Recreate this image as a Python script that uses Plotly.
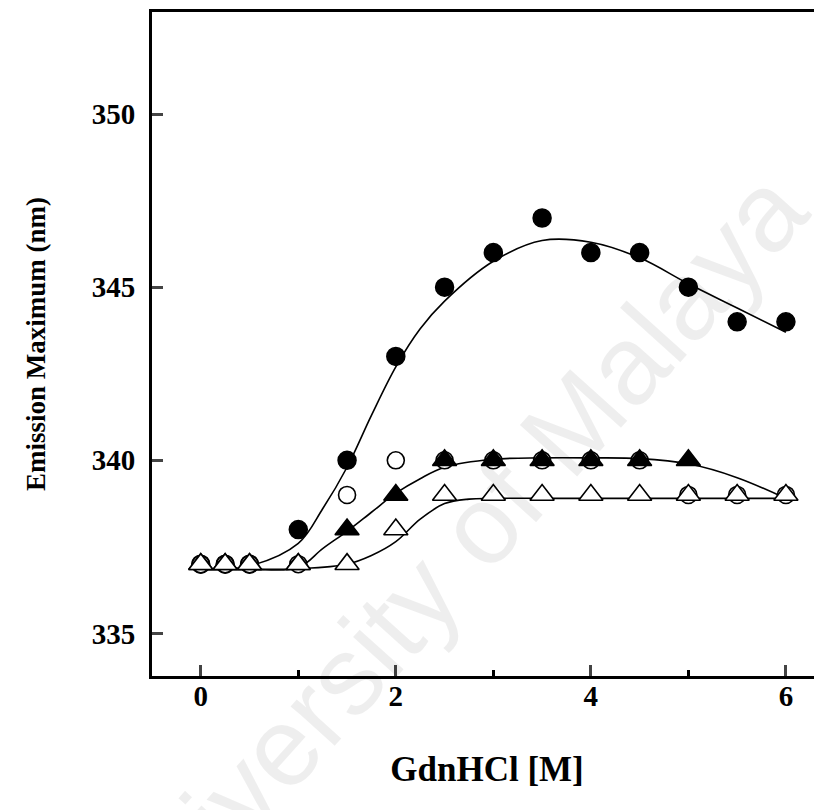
import plotly.graph_objects as go

# ---- data ----
gdn = [0, 0.25, 0.5, 1, 1.5, 2, 2.5, 3, 3.5, 4, 4.5, 5, 5.5, 6]
filled_circle = [337, 337, 337, 338, 340, 343, 345, 346, 347, 346, 346, 345, 344, 344]
open_circle = [337, 337, 337, 337, 339, 340, 340, 340, 340, 340, 340, 339, 339, 339]
gdn_ft = [0, 0.25, 0.5, 1, 1.5, 2, 2.5, 3, 3.5, 4, 4.5, 5]
filled_triangle = [337, 337, 337, 337, 338, 339, 340, 340, 340, 340, 340, 340]
open_triangle = [337, 337, 337, 337, 337, 338, 339, 339, 339, 339, 339, 339, 339, 339]

# fitted curves (values at knots)
fit1_x = [0, 0.5, 1.0, 1.25, 1.5, 1.75, 2.0, 2.25, 2.5, 3.0, 3.5, 4.0, 4.5, 5.0, 5.5, 6.0]
fit1_y = [336.85, 336.95, 337.6, 338.6, 339.8, 341.3, 342.7, 343.8, 344.6, 345.75, 346.35, 346.3, 345.85, 345.1, 344.4, 343.7]
fit2_x = [0, 0.5, 1.0, 1.25, 1.5, 1.75, 2.0, 2.25, 2.5, 3.0, 3.5, 4.0, 4.5, 5.0, 5.5, 6.0]
fit2_y = [336.85, 336.85, 336.9, 337.45, 337.95, 338.5, 339.05, 339.47, 339.8, 340.03, 340.07, 340.07, 340.05, 339.9, 339.5, 338.9]
fit3_x = [0, 0.5, 1.0, 1.5, 1.75, 2.0, 2.25, 2.5, 2.75, 3.0, 4.0, 5.0, 6.0]
fit3_y = [336.85, 336.85, 336.87, 337.0, 337.25, 337.65, 338.3, 338.75, 338.88, 338.9, 338.9, 338.9, 338.9]

x_ticks = [0, 2, 4, 6]
y_ticks = [335, 340, 345, 350]

FONT = "Liberation Serif"

fig = go.Figure()

fig.add_annotation(text="University of Malaya", xref="paper", yref="paper",
                   x=0.44, y=0.17, xanchor="center", yanchor="middle",
                   showarrow=False, textangle=-48,
                   font=dict(family="Liberation Sans", size=112, color="rgba(0,0,0,0.065)"))

for fx, fy in [(fit1_x, fit1_y), (fit2_x, fit2_y), (fit3_x, fit3_y)]:
    fig.add_trace(go.Scatter(x=fx, y=fy, mode="lines",
                             line=dict(color="black", width=1.6, shape="spline", smoothing=1.0),
                             hoverinfo="skip", showlegend=False))

fig.add_trace(go.Scatter(x=gdn, y=filled_circle, mode="markers", showlegend=False,
                         marker=dict(symbol="circle", size=18, color="black",
                                     line=dict(color="black", width=1.5))))
fig.add_trace(go.Scatter(x=gdn, y=open_circle, mode="markers", showlegend=False,
                         marker=dict(symbol="circle", size=17, color="white",
                                     line=dict(color="black", width=1.6))))
fig.add_trace(go.Scatter(x=gdn_ft, y=filled_triangle, mode="markers", showlegend=False,
                         marker=dict(symbol="triangle-up", size=21, color="black",
                                     line=dict(color="black", width=1.5))))
fig.add_trace(go.Scatter(x=gdn, y=open_triangle, mode="markers", showlegend=False,
                         marker=dict(symbol="triangle-up", size=21, color="white",
                                     line=dict(color="black", width=1.6))))

fig.update_layout(
    width=814, height=802,
    margin=dict(l=144, r=0, t=4, b=134),
    plot_bgcolor="white", paper_bgcolor="white",
    font=dict(family=FONT, color="black"),
    xaxis=dict(range=[-0.5, 6.37], tickvals=x_ticks, ticks="inside", ticklen=11, tickwidth=2.5,
               showline=True, linewidth=3, linecolor="black", mirror=True,
               showgrid=False, zeroline=False, ticklabelstandoff=-8,
               minor=dict(tickvals=[1, 3, 5], ticks="inside", ticklen=6, tickwidth=2.5, tickcolor="black"),
               tickfont=dict(family=FONT, size=29, color="black", weight="bold"),
               title=dict(text="GdnHCl [M]", standoff=46,
                          font=dict(family=FONT, size=35, color="black", weight="bold"))),
    yaxis=dict(range=[333.77, 352.95], tickvals=y_ticks, ticks="inside", ticklen=11, tickwidth=2.5,
               showline=True, linewidth=3, linecolor="black", mirror=False,
               showgrid=False, zeroline=False, ticklabelstandoff=8,
               tickfont=dict(family=FONT, size=29, color="black", weight="bold"),
               title=dict(text="Emission Maximum (nm)", standoff=39,
                          font=dict(family=FONT, size=27, color="black", weight="bold"))),
)

fig.write_html("out.html")
